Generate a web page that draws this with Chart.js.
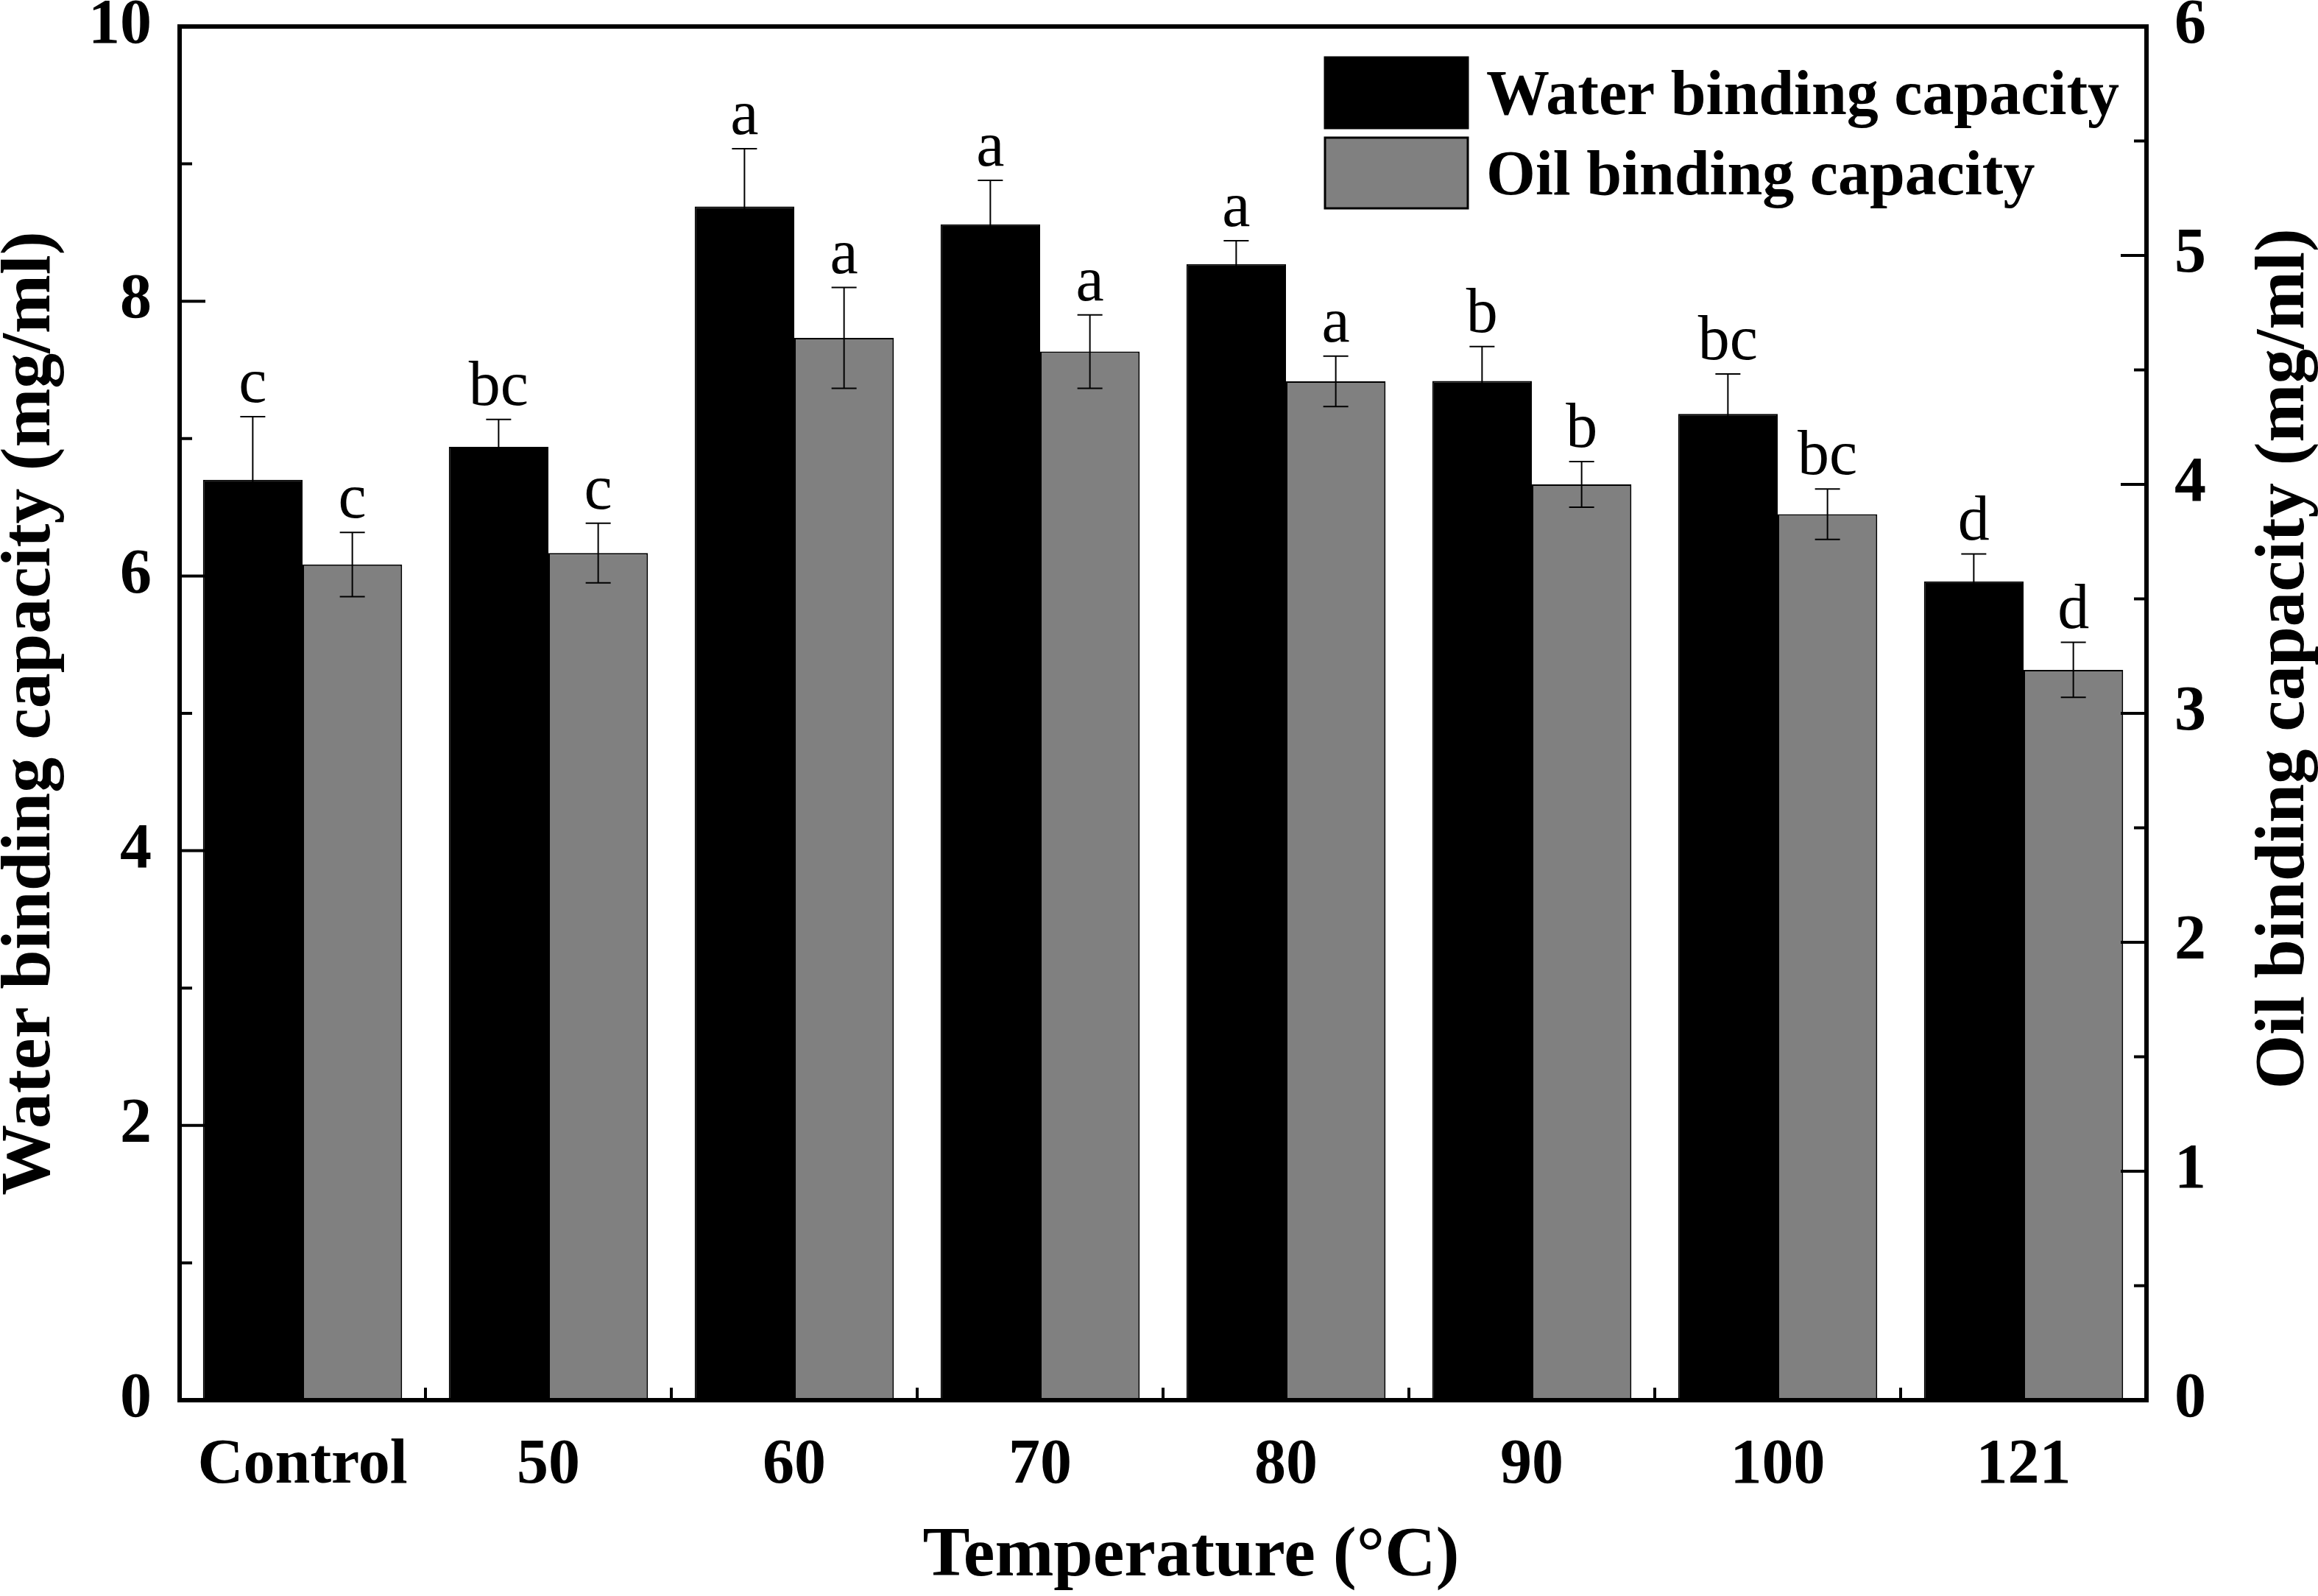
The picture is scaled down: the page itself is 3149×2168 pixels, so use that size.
<!DOCTYPE html>
<html>
<head>
<meta charset="utf-8">
<script src="https://cdn.jsdelivr.net/npm/chart.js@4.4.1/dist/chart.umd.min.js"></script>
<style>
  html, body { margin: 0; padding: 0; background: #fff; }
  #wrap { width: 3149px; height: 2168px; position: relative; }
</style>
</head>
<body>
<div id="wrap"><canvas id="ch"></canvas></div>
<script>
// ── Datos ─────────────────────────────────────────────────────────────────
const categories   = ['Control', '50', '60', '70', '80', '90', '100', '121'];
const waterValues  = [6.70, 6.94, 8.69, 8.56, 8.27, 7.42, 7.18, 5.96];
const waterErrors  = [0.46, 0.20, 0.42, 0.32, 0.17, 0.25, 0.29, 0.20];
const waterLetters = ['c', 'bc', 'a', 'a', 'a', 'b', 'bc', 'd'];
const oilValues    = [3.65, 3.70, 4.64, 4.58, 4.45, 4.00, 3.87, 3.19];
const oilErrors    = [0.14, 0.13, 0.22, 0.16, 0.11, 0.10, 0.11, 0.12];
const oilLetters   = ['c', 'c', 'a', 'a', 'a', 'b', 'bc', 'd'];

const FONT = "'Liberation Serif', 'Times New Roman', serif";

// ── Barras de error + letras ─────────────────────────────────────────────
const errorBars = {
    id: 'errorBars',
    afterDatasetsDraw(chart) {
        const ctx = chart.ctx;
        ctx.save();
        chart.data.datasets.forEach((ds, i) => {
            const meta  = chart.getDatasetMeta(i);
            const scale = chart.scales[ds.yAxisID];
            meta.data.forEach((bar, j) => {
                const v = ds.data[j], e = ds.errors[j];
                const yTop = scale.getPixelForValue(v + e);
                const yBot = scale.getPixelForValue(v - e);
                ctx.strokeStyle = '#000';
                ctx.lineWidth = 2;
                ctx.beginPath();
                ctx.moveTo(bar.x, yTop); ctx.lineTo(bar.x, yBot);
                ctx.moveTo(bar.x - 17, yTop); ctx.lineTo(bar.x + 17, yTop);
                ctx.moveTo(bar.x - 17, yBot); ctx.lineTo(bar.x + 17, yBot);
                ctx.stroke();
                ctx.fillStyle = '#000';
                ctx.font = `86px ${FONT}`;
                ctx.textAlign = 'center';
                ctx.textBaseline = 'alphabetic';
                ctx.fillText(ds.letters[j], bar.x, yTop - 20);
            });
        });
        ctx.restore();
    },
};

// ── Marco, ticks hacia dentro, leyenda y titulos ─────────────────────────
const frame = {
    id: 'frame',
    afterDraw(chart) {
        const ctx = chart.ctx;
        const { left, right, top, bottom } = chart.chartArea;
        const yL = chart.scales.y, yR = chart.scales.y1, x = chart.scales.x;
        ctx.save();
        ctx.strokeStyle = '#000';

        ctx.lineWidth = 4;
        ctx.beginPath();
        for (let v = 1; v < 10; v++) {
            const py = yL.getPixelForValue(v);
            ctx.moveTo(left, py); ctx.lineTo(left + (v % 2 === 0 ? 35 : 17), py);
        }
        for (let v = 0.5; v < 6; v += 0.5) {
            const py = yR.getPixelForValue(v);
            ctx.moveTo(right, py); ctx.lineTo(right - (Number.isInteger(v) ? 35 : 17), py);
        }
        for (let i = 1; i < categories.length; i++) {
            const px = (x.getPixelForValue(i - 1) + x.getPixelForValue(i)) / 2;
            ctx.moveTo(px, bottom); ctx.lineTo(px, bottom - 17);
        }
        ctx.stroke();

        ctx.lineWidth = 6;
        ctx.strokeRect(left, top, right - left, bottom - top);

        // leyenda
        chart.data.datasets.forEach((ds, i) => {
            const bx = 1800, by = 78 + i * 109, bw = 194, bh = 96;
            ctx.fillStyle = ds.backgroundColor;
            ctx.fillRect(bx, by, bw, bh);
            ctx.lineWidth = 3;
            ctx.strokeRect(bx, by, bw, bh);
            ctx.fillStyle = '#000';
            ctx.font = `bold 86px ${FONT}`;
            ctx.textAlign = 'left';
            ctx.textBaseline = 'alphabetic';
            ctx.fillText(ds.label, bx + bw + 25, by + bh / 2 + 29);
        });

        // titulos de ejes
        ctx.fillStyle = '#000';
        ctx.font = `bold 96px ${FONT}`;
        ctx.textAlign = 'center';
        ctx.textBaseline = 'alphabetic';
        ctx.fillText('Temperature (°C)', 1618, 2140);

        ctx.save();
        ctx.translate(67, (top + bottom) / 2);
        ctx.rotate(-Math.PI / 2);
        ctx.fillText('Water binding capacity (mg/ml)', 0, 0);
        ctx.restore();

        ctx.save();
        ctx.font = `bold 95px ${FONT}`;
        ctx.translate(3129, 895);
        ctx.rotate(-Math.PI / 2);
        ctx.fillText('Oil binding capacity (mg/ml)', 0, 0);
        ctx.restore();

        ctx.restore();
    },
};

const tickFont = { family: FONT, size: 86, weight: 'bold' };
const noPad = s => { s.paddingTop = 0; s.paddingBottom = 0; s.paddingLeft = 0; s.paddingRight = 0; };

new Chart(document.getElementById('ch').getContext('2d'), {
    type: 'bar',
    data: {
        labels: categories,
        datasets: [
            {
                label: 'Water binding capacity',
                data: waterValues, errors: waterErrors, letters: waterLetters,
                yAxisID: 'y',
                backgroundColor: '#000000', borderColor: '#000000', borderWidth: 2,
                categoryPercentage: 0.81, barPercentage: 1.0,
            },
            {
                label: 'Oil binding capacity',
                data: oilValues, errors: oilErrors, letters: oilLetters,
                yAxisID: 'y1',
                backgroundColor: '#808080', borderColor: '#000000', borderWidth: 2,
                categoryPercentage: 0.81, barPercentage: 1.0,
            },
        ],
    },
    options: {
        responsive: true, maintainAspectRatio: false,
        devicePixelRatio: 1,
        animation: false,
        layout: { padding: { top: 36, left: 0, right: 0, bottom: 0 } },
        plugins: { legend: { display: false }, tooltip: { enabled: false } },
        scales: {
            x: {
                grid: { display: false, drawTicks: false }, border: { display: false },
                ticks: { font: tickFont, color: '#000', padding: 38, maxRotation: 0 },
                afterFit: s => { noPad(s); s.height = 266; },
            },
            y: {
                position: 'left', min: 0, max: 10,
                grid: { display: false, drawTicks: false }, border: { display: false },
                ticks: { stepSize: 2, font: tickFont, color: '#000', padding: 38 },
                afterFit: s => { noPad(s); s.width = 244; },
            },
            y1: {
                position: 'right', min: 0, max: 6,
                grid: { display: false, drawTicks: false }, border: { display: false },
                ticks: { stepSize: 1, font: tickFont, color: '#000', padding: 38 },
                afterFit: s => { noPad(s); s.width = 233; },
            },
        },
    },
    plugins: [errorBars, frame],
});
</script>
</body>
</html>
